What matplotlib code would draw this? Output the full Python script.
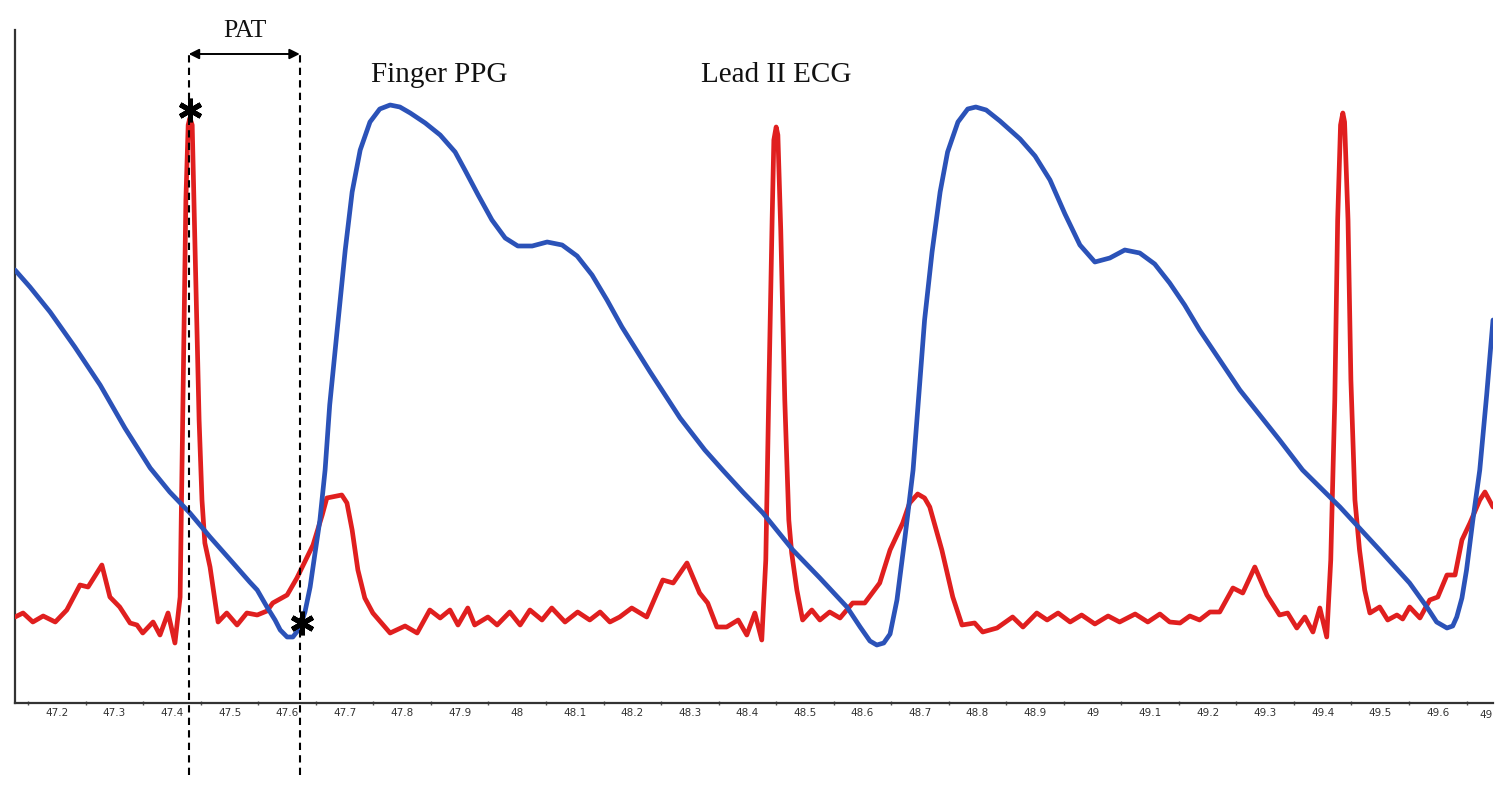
import matplotlib
matplotlib.use("Agg")
import matplotlib.pyplot as plt

# ---------------- data ----------------
ecg_t = [47.127, 47.141, 47.158, 47.176, 47.197, 47.217, 47.240, 47.254, 47.278, 47.292,
         47.309, 47.327, 47.339, 47.349, 47.367, 47.379, 47.393, 47.405, 47.414, 47.419,
         47.424, 47.428, 47.431, 47.435, 47.440, 47.447, 47.452, 47.457, 47.466, 47.480,
         47.495, 47.513, 47.530, 47.548, 47.565, 47.575, 47.600, 47.617, 47.645, 47.661,
         47.669, 47.695, 47.704, 47.713, 47.723, 47.735, 47.749, 47.779, 47.805, 47.826,
         47.848, 47.866, 47.883, 47.897, 47.914, 47.926, 47.949, 47.965, 47.987, 48.005,
         48.022, 48.043, 48.060, 48.083, 48.105, 48.126, 48.144, 48.161, 48.178, 48.199,
         48.225, 48.243, 48.253, 48.271, 48.295, 48.317, 48.331, 48.347, 48.364, 48.384,
         48.399, 48.413, 48.425, 48.432, 48.437, 48.443, 48.446, 48.450, 48.453, 48.458,
         48.465, 48.472, 48.477, 48.486, 48.496, 48.512, 48.526, 48.543, 48.561, 48.583,
         48.604, 48.630, 48.648, 48.670, 48.682, 48.696, 48.708, 48.717, 48.738, 48.757,
         48.773, 48.795, 48.809, 48.834, 48.861, 48.879, 48.903, 48.921, 48.940, 48.961,
         48.981, 49.004, 49.027, 49.047, 49.074, 49.096, 49.117, 49.134, 49.152, 49.169,
         49.186, 49.204, 49.221, 49.244, 49.261, 49.282, 49.303, 49.325, 49.339, 49.355,
         49.369, 49.383, 49.395, 49.407, 49.414, 49.421, 49.426, 49.431, 49.435, 49.438,
         49.444, 49.449, 49.456, 49.464, 49.473, 49.482, 49.499, 49.513, 49.529, 49.539,
         49.551, 49.569, 49.586, 49.600, 49.616, 49.630, 49.642, 49.656, 49.673, 49.682,
         49.696]
ecg_v = [8.6, 9.0, 8.1, 8.7, 8.1, 9.3, 11.8, 11.6, 13.8, 10.6,
         9.6, 8.0, 7.8, 7.0, 8.1, 6.8, 9.0, 6.0, 10.6, 30.3,
         50.3, 57.8, 58.5, 57.8, 45.3, 28.3, 20.3, 16.0, 13.6, 8.1,
         9.0, 7.8, 9.0, 8.8, 9.2, 10.0, 10.8, 12.5, 15.8, 18.8,
         20.5, 20.8, 20.0, 17.3, 13.3, 10.5, 9.0, 7.0, 7.7, 7.0,
         9.3, 8.5, 9.3, 7.8, 9.5, 7.8, 8.6, 7.8, 9.1, 7.8,
         9.3, 8.3, 9.5, 8.1, 9.1, 8.3, 9.1, 8.1, 8.6, 9.5,
         8.6, 11.0, 12.3, 12.0, 14.0, 11.0, 10.0, 7.6, 7.6, 8.3,
         6.8, 9.0, 6.3, 14.3, 30.3, 48.3, 56.3, 57.6, 56.8, 47.3,
         30.3, 18.3, 15.0, 11.3, 8.3, 9.3, 8.3, 9.1, 8.5, 10.0,
         10.0, 12.0, 15.3, 18.0, 20.0, 20.9, 20.5, 19.6, 15.3, 10.6,
         7.8, 8.0, 7.1, 7.5, 8.6, 7.6, 9.0, 8.3, 9.0, 8.1,
         8.8, 7.9, 8.7, 8.1, 8.9, 8.1, 8.9, 8.1, 8.0, 8.7,
         8.3, 9.1, 9.1, 11.5, 11.0, 13.6, 10.8, 8.8, 9.0, 7.5,
         8.6, 7.1, 9.5, 6.6, 14.3, 30.3, 48.3, 57.8, 59.0, 58.1,
         48.3, 32.3, 20.3, 15.3, 11.3, 9.0, 9.6, 8.3, 8.8, 8.4,
         9.6, 8.5, 10.3, 10.6, 12.8, 12.8, 16.3, 18.0, 20.3, 21.1,
         19.6]

ppg_t = [47.127, 47.153, 47.188, 47.231, 47.275, 47.318, 47.362, 47.396, 47.431, 47.466,
         47.506, 47.535, 47.548, 47.565, 47.579, 47.588, 47.600, 47.610, 47.622, 47.631,
         47.640, 47.648, 47.657, 47.666, 47.674, 47.687, 47.701, 47.713, 47.727, 47.744,
         47.761, 47.779, 47.796, 47.814, 47.840, 47.866, 47.892, 47.909, 47.932, 47.956,
         47.979, 48.001, 48.026, 48.052, 48.078, 48.104, 48.130, 48.156, 48.182, 48.231,
         48.283, 48.326, 48.357, 48.392, 48.427, 48.479, 48.526, 48.573, 48.596, 48.613,
         48.625, 48.637, 48.648, 48.660, 48.674, 48.688, 48.696, 48.708, 48.721, 48.735,
         48.748, 48.766, 48.783, 48.797, 48.815, 48.839, 48.874, 48.900, 48.926, 48.952,
         48.978, 49.004, 49.030, 49.056, 49.082, 49.108, 49.134, 49.160, 49.186, 49.256,
         49.325, 49.365, 49.430, 49.499, 49.551, 49.581, 49.598, 49.616, 49.626, 49.633,
         49.642, 49.650, 49.661, 49.673, 49.685, 49.696]
ppg_v = [43.3, 41.6, 39.1, 35.6, 31.8, 27.5, 23.5, 21.1, 19.0, 16.6,
         14.0, 12.1, 11.3, 9.6, 8.3, 7.3, 6.6, 6.6, 7.5, 9.1,
         11.6, 14.8, 18.3, 23.3, 29.8, 37.3, 45.3, 51.1, 55.3, 58.1,
         59.4, 59.8, 59.6, 59.0, 58.0, 56.8, 55.1, 53.3, 50.8, 48.3,
         46.5, 45.7, 45.7, 46.1, 45.8, 44.7, 42.8, 40.3, 37.6, 33.1,
         28.5, 25.3, 23.3, 21.1, 19.0, 15.3, 12.5, 9.6, 7.6, 6.2,
         5.8, 6.0, 6.9, 10.3, 16.6, 23.3, 29.3, 38.3, 45.1, 51.1,
         55.1, 58.1, 59.4, 59.6, 59.3, 58.2, 56.4, 54.7, 52.3, 48.9,
         45.8, 44.1, 44.5, 45.3, 45.0, 43.9, 42.0, 39.8, 37.3, 31.3,
         26.3, 23.3, 19.6, 15.3, 12.0, 9.6, 8.1, 7.5, 7.7, 8.6,
         10.5, 13.3, 18.3, 23.3, 30.8, 38.3]

tick_values = [47.2, 47.3, 47.4, 47.5, 47.6, 47.7, 47.8, 47.9, 48.0, 48.1, 48.2, 48.3,
               48.4, 48.5, 48.6, 48.7, 48.8, 48.9, 49.0, 49.1, 49.2, 49.3, 49.4, 49.5, 49.6]
tick_labels = ["47.2", "47.3", "47.4", "47.5", "47.6", "47.7", "47.8", "47.9", "48",
               "48.1", "48.2", "48.3", "48.4", "48.5", "48.6", "48.7", "48.8", "48.9",
               "49", "49.1", "49.2", "49.3", "49.4", "49.5", "49.6"]
minor_ticks = [47.15, 47.25, 47.35, 47.45, 47.55, 47.65, 47.75, 47.85, 47.95, 48.05,
               48.15, 48.25, 48.35, 48.45, 48.55, 48.65, 48.75, 48.85, 48.95, 49.05,
               49.15, 49.25, 49.35, 49.45, 49.55, 49.65]

r_peak_time = 47.429      # ECG R peak (start of PAT)
ppg_foot_time = 47.622    # PPG foot (end of PAT)
r_peak_marker = (47.431, 59.3)
ppg_foot_marker = (47.625, 8.0)

# ---------------- figure ----------------
W, H = 1510, 796
fig = plt.figure(figsize=(W / 100, H / 100), dpi=100)
ax = fig.add_axes([15 / W, (796 - 703) / H, (1493 - 15) / W, (703 - 30) / H])
ax.set_xlim(47.127, 49.696)
ax.set_ylim(0, 67.3)

red = "#e01f1f"
blue = "#2b52b8"
ax.plot(ecg_t, ecg_v, color=red, lw=3.4, solid_joinstyle="round", solid_capstyle="round", zorder=3)
ax.plot(ppg_t, ppg_v, color=blue, lw=3.4, solid_joinstyle="round", solid_capstyle="round", zorder=4)

for s in ["top", "right"]:
    ax.spines[s].set_visible(False)
for s in ["left", "bottom"]:
    ax.spines[s].set_color("#333333")
    ax.spines[s].set_linewidth(1.6)

ax.set_yticks([])
ax.set_xticks(tick_values)
ax.set_xticklabels(tick_labels, fontsize=7.5, color="#333333", family="DejaVu Sans")
ax.set_xticks(minor_ticks, minor=True)
ax.tick_params(axis="x", which="major", length=0, pad=3.5)
ax.tick_params(axis="x", which="minor", length=3, width=1, color="#555555", direction="inout")
ax.text(1.0, -0.011, "49", transform=ax.transAxes, ha="right", va="top",
        fontsize=7.5, color="#333333", family="DejaVu Sans")

# PAT dashed lines and arrow
for t in (r_peak_time, ppg_foot_time):
    ax.plot([t, t], [-7.2, 65.1], color="black", lw=1.5, ls=(0, (3.5, 2.5)),
            clip_on=False, zorder=5)
ax.annotate("", xy=(ppg_foot_time, 64.9), xytext=(r_peak_time, 64.9),
            arrowprops=dict(arrowstyle="<|-|>", lw=1.4, color="black",
                            mutation_scale=15, shrinkA=0, shrinkB=0),
            annotation_clip=False, zorder=6)

serif = "Liberation Serif"
ax.text(47.527, 66.6, "PAT", ha="center", va="baseline", fontsize=18.5,
        family=serif, color="#111111", clip_on=False)
ax.text(47.864, 62.1, "Finger PPG", ha="center", va="baseline", fontsize=21,
        family=serif, color="#111111")
ax.text(48.450, 62.1, "Lead II ECG", ha="center", va="baseline", fontsize=21,
        family=serif, color="#111111")

# asterisks
for (mx, my) in (r_peak_marker, ppg_foot_marker):
    ax.plot([mx], [my], marker=(6, 2, 0), markersize=17, markeredgewidth=3.6,
            color="black", zorder=7, clip_on=False)

fig.savefig("out.png", dpi=100)
